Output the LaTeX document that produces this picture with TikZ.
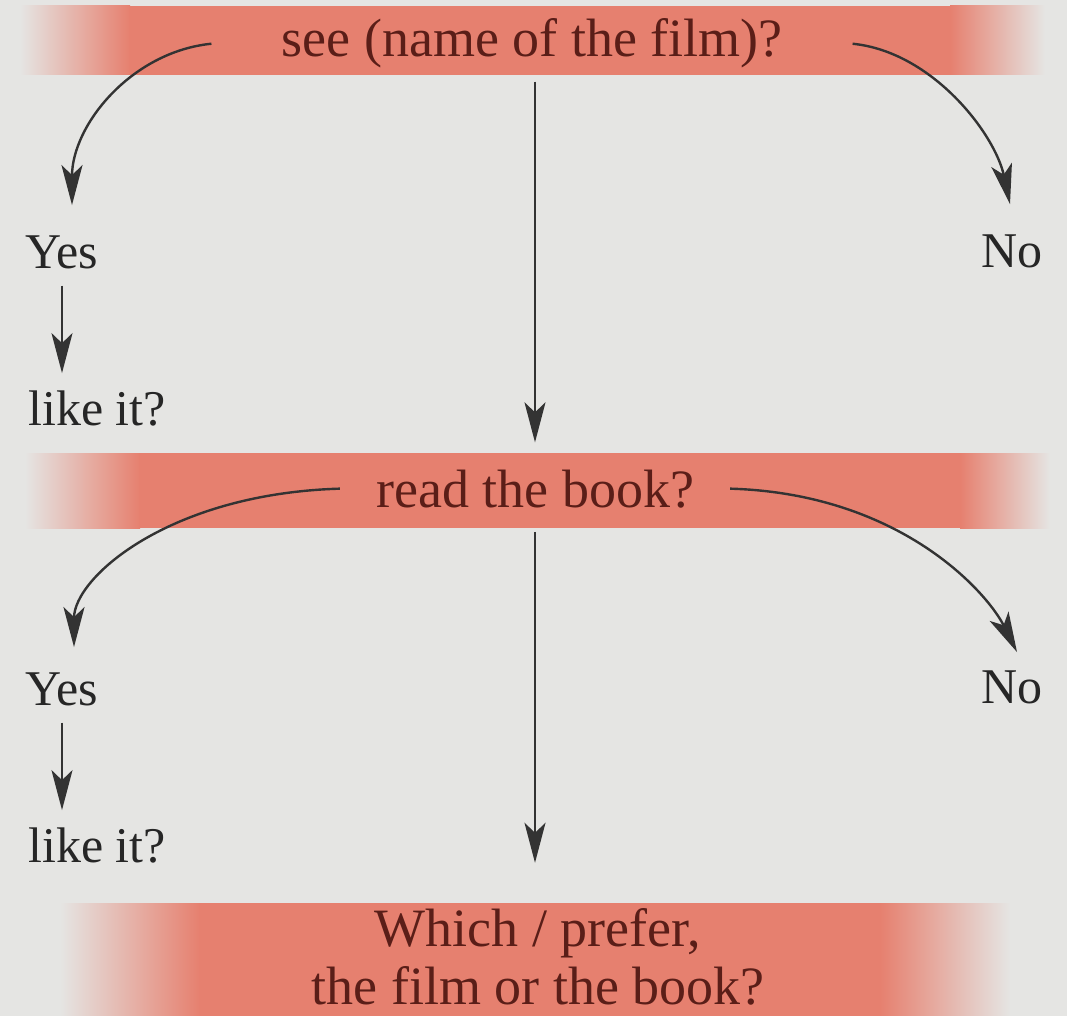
\documentclass[tikz,border=0pt]{standalone}
\usepackage{fontspec}
\setmainfont{Liberation Serif}
\usetikzlibrary{arrows.meta,calc}
\definecolor{bg}{HTML}{E5E5E3}
\definecolor{band}{HTML}{E6806F}
\definecolor{bandtext}{HTML}{5A1E18}
\definecolor{ink}{HTML}{333333}
\definecolor{lbl}{HTML}{262626}
\begin{document}
\begin{tikzpicture}[x=1pt,y=-1pt,
  q/.style={font=\fontsize{54}{58}\selectfont, text=bandtext, inner ysep=0pt, align=center, anchor=base},
  lab/.style={font=\fontsize{50}{56}\selectfont, text=lbl, inner sep=0pt, anchor=base},
  arr/.style={draw=ink, line width=2.4pt, -{Stealth[length=40pt,width=21pt,inset=10pt]}},
  varr/.style={draw=ink, line width=2.2pt, -{Stealth[length=40pt,width=21pt,inset=10pt]}},
]
\useasboundingbox (0,0) rectangle (1067,1016);
\fill[bg] (0,0) rectangle (1067,1016);
% bands
\shade[left color=bg, right color=band] (20,6) rectangle (130,75);
\fill[band] (129,6) rectangle (951,75);
\shade[left color=band, right color=bg] (950,6) rectangle (1045,75);
\shade[left color=bg, right color=band] (25,453) rectangle (140,528);
\fill[band] (139,453) rectangle (961,528);
\shade[left color=band, right color=bg] (960,453) rectangle (1050,528);
\shade[left color=bg, right color=band] (60,903) rectangle (200,1016);
\fill[band] (199,903) rectangle (881,1016);
\shade[left color=band, right color=bg] (880,903) rectangle (1010,1016);
% nodes
\node[q, inner xsep=70pt] (q1) at (532,57) {see (name of the film)?};
\node[q, inner xsep=36pt] (q2) at (535,507) {read the book?};
\node[q] (q3) at (538,1004) {Which / prefer,\\the film or the book?};
\node[lab] (yes1) at (62,268) {Yes};
\node[lab] (no1) at (1012,267) {No};
\node[lab] (like1) at (97,425) {like it?};
\node[lab] (yes2) at (62,705) {Yes};
\node[lab] (no2) at (1012,703) {No};
\node[lab] (like2) at (97,862) {like it?};
% connectors
\draw[arr] (q1.west) .. controls +(-80,8) and +(0,-80) .. ($(yes1.north)+(10,-30)$);
\draw[arr] (q1.east) .. controls +(80,8) and +(-15,-70) .. ($(no1.north)+(-2,-30)$);
\draw[arr] (q2.west) .. controls +(-170,5) and +(0,-70) .. ($(yes2.north)+(12,-25)$);
\draw[arr] (q2.east) .. controls +(170,5) and +(-30,-60) .. ($(no2.north)+(5,-18)$);
\draw[varr, shorten <=13pt, shorten >=27pt] (q2.north |- q1.south) -- (q2.north);
\draw[varr, shorten <=24pt, shorten >=45pt] (q2.south) -- (q2.south |- q3.north);
\draw[varr, shorten <=17pt, shorten >=17pt] (yes1.south) -- (yes1.south |- like1.north);
\draw[varr, shorten <=17pt, shorten >=17pt] (yes2.south) -- (yes2.south |- like2.north);
\end{tikzpicture}
\end{document}
